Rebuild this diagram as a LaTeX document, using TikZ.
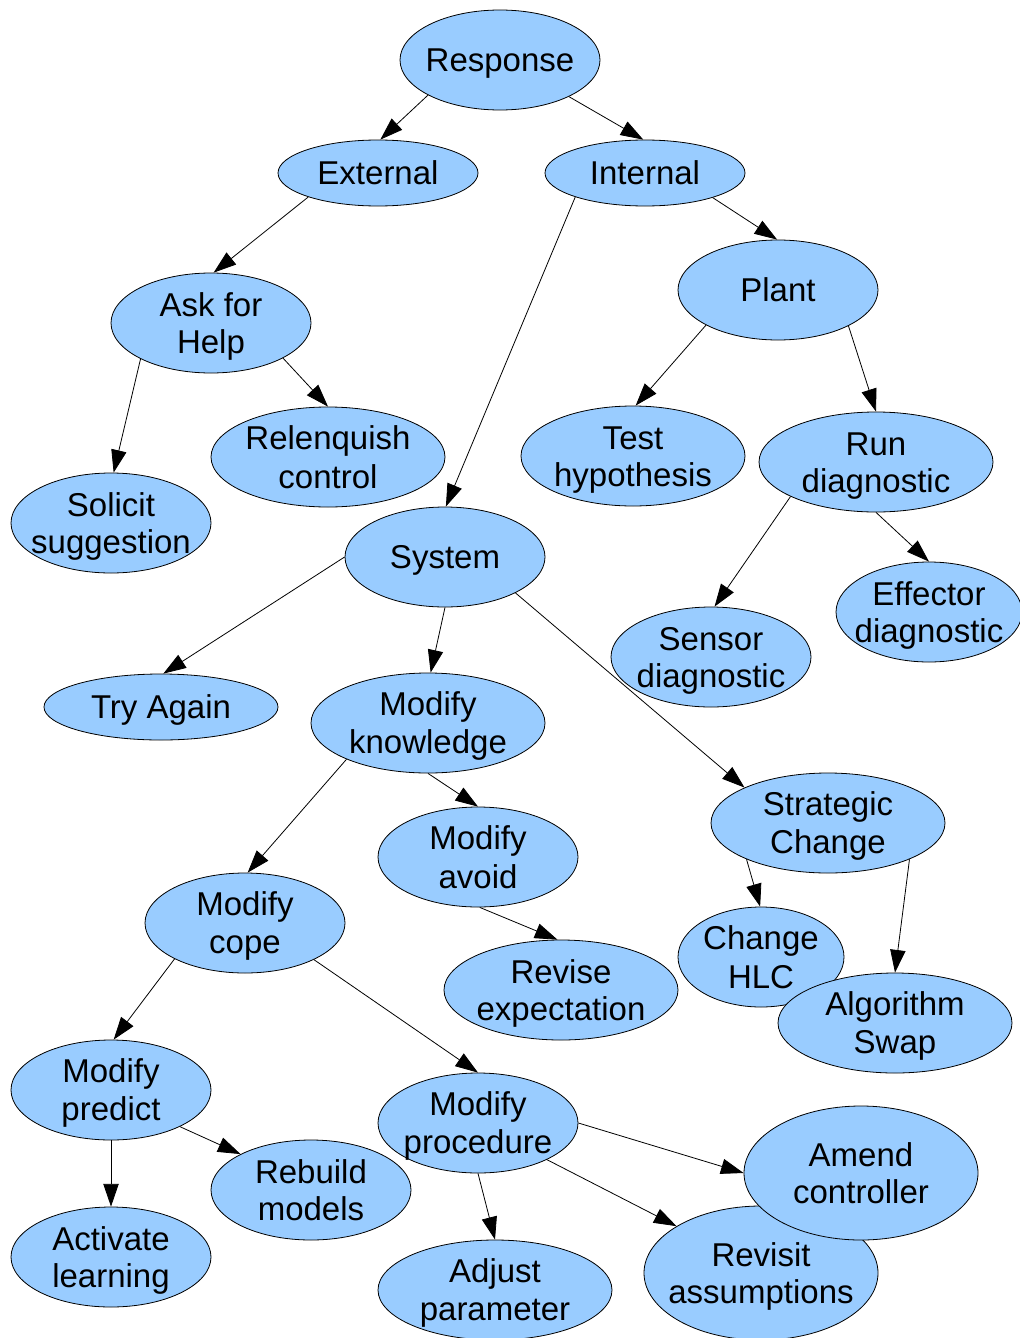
\documentclass[tikz,border=0pt]{standalone}
\usepackage{fontspec}
\setmainfont{Liberation Sans}
\usetikzlibrary{shapes.geometric,arrows.meta}
\definecolor{bubble}{RGB}{153,204,255}
% line strut whose height minus depth equals the cap height,
% so that a caption is centred on its capitals
\newcommand\ls{\rule[-0.2em]{0pt}{1.116em}}
% ellipse with its caption: name, x, y, width, height, text
\newcommand\mkbubble[6]{%
  \node[bub,minimum width=#4*0.75pt,minimum height=#5*0.75pt] (#1) at (#2,#3) {};
  \node[lbl] (#1-t) at (#1.center) {#6};}
\begin{document}
\begin{tikzpicture}[x=0.75pt,y=-0.75pt,
  bub/.style={ellipse, draw=black, line width=0.6pt, fill=bubble, inner sep=0pt},
  lbl/.style={align=center, inner sep=0pt, font=\fontsize{24.75}{27.75}\selectfont},
  link/.style={line width=0.6pt, -{Triangle[length=17pt,width=11.5pt]}}]
\useasboundingbox (0,0) rectangle (1020,1338);

\mkbubble{resp}{500}{60}{200}{100}{\ls Response}
\mkbubble{ext}{378}{173}{200}{66}{\ls External}
\mkbubble{int}{645}{173}{200}{66}{\ls Internal}
\mkbubble{ask}{211}{323}{200}{100}{\ls Ask for\\\ls Help}
\mkbubble{relq}{328}{457}{234}{100}{\ls Relenquish\\\ls control}
\mkbubble{sol}{111}{523}{200}{100}{\ls Solicit\\\ls suggestion}
\mkbubble{plant}{778}{290}{200}{100}{\ls Plant}
\mkbubble{test}{633}{456}{224}{100}{\ls Test\\\ls hypothesis}
\mkbubble{run}{876}{462}{234}{100}{\ls Run\\\ls diagnostic}
\mkbubble{sys}{445}{557}{200}{100}{\ls System}
\mkbubble{eff}{929}{612}{186}{100}{\ls Effector\\\ls diagnostic}
\mkbubble{sens}{711}{657}{200}{100}{\ls Sensor\\\ls diagnostic}
\mkbubble{try}{161}{707}{234}{66}{\ls Try Again}
\mkbubble{modk}{428}{723}{234}{100}{\ls Modify\\\ls knowledge}
\mkbubble{strat}{828}{823}{234}{100}{\ls Strategic\\\ls Change}
\mkbubble{moda}{478}{857}{200}{100}{\ls Modify\\\ls avoid}
\mkbubble{modc}{245}{923}{200}{100}{\ls Modify\\\ls cope}
\mkbubble{hlc}{761}{957}{166}{100}{\ls Change\\\ls HLC}
\mkbubble{rev}{561}{990}{234}{100}{\ls Revise\\\ls expectation}
\mkbubble{alg}{895}{1023}{234}{100}{\ls Algorithm\\\ls Swap}
\mkbubble{modp}{111}{1090}{200}{100}{\ls Modify\\\ls predict}
\mkbubble{proc}{478}{1123}{200}{100}{\ls Modify\\\ls procedure}
\mkbubble{rebuild}{311}{1190}{200}{100}{\ls Rebuild\\\ls models}
\mkbubble{act}{111}{1257}{200}{100}{\ls Activate\\\ls learning}
\mkbubble{adj}{495}{1290}{234}{100}{\ls Adjust\\\ls parameter}
\mkbubble{revis}{761}{1273}{234}{134}{\ls Revisit\\\ls assumptions}
\mkbubble{amend}{861}{1173}{234}{134}{\ls Amend\\\ls controller}

% connectors
\draw[link] (resp.206.6) -- (ext.86.7);
\draw[link] (resp.332.1) -- (int.93.3);
\draw[link] (ext.199.7) -- (ask.87.8);
\draw[link] (int.340.6) -- (plant.91);
\draw[link] (int.199.4) -- (sys.89);
\draw[link] (ask.334.1) -- (relq.90);
\draw[link] (ask.207.5) -- (sol.87.8);
\draw[link] (plant.206.9) -- (test.87.8);
\draw[link] (plant.333.4) -- (run.90);
\draw[link] (run.202.9) -- (sens.86.6);
\draw[link] (run.270) -- (eff.90);
\draw[link] (sys.180) -- (try.86.7);
\draw[link] (sys.270) -- (modk.87.7);
\draw[link] (sys.333.1) -- (strat.157.1);
\draw[link] (modk.204) -- (modc.87.8);
\draw[link] (modk.270) -- (moda.90);
\draw[link] (moda.272.3) -- (rev.94.6);
\draw[link] (strat.204) -- (hlc.91);
\draw[link] (strat.336) -- (alg.90);
\draw[link] (modc.207.9) -- (modp.87.8);
\draw[link] (modc.332.5) -- (proc.90);
\draw[link] (modp.270) -- (act.90);
\draw[link] (modp.332.8) -- (rebuild.153.8);
\draw[link] (proc.0) -- (amend.180);
\draw[link] (proc.332.8) -- (revis.151);
\draw[link] (proc.270) -- (adj.90);
\end{tikzpicture}
\end{document}
